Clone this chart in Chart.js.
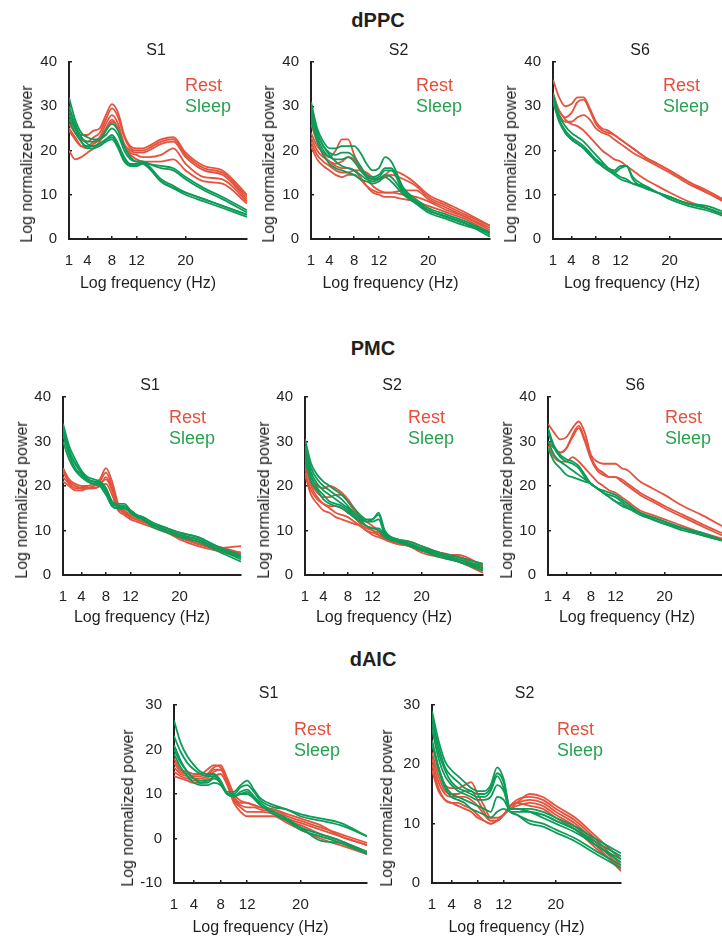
<!DOCTYPE html>
<html lang="en">
<head>
<meta charset="UTF-8">
<title>Log power spectra, rest vs sleep</title>
<style>
  html, body { margin: 0; padding: 0; width: 722px; height: 937px; overflow: hidden; background: #fff; }
  body { position: relative; font-family: "Liberation Sans", Arial, sans-serif; color: #231f20; }
  canvas { position: absolute; }
  .t { position: absolute; white-space: nowrap; line-height: 1; transform: translate(-50%, -50%); }
  .head { font-weight: bold; font-size: 20px; }
  .sub { font-size: 16px; }
  .ax { font-size: 16px; }
  .yt { transform: translate(-50%, -50%) rotate(-90deg); }
  .leg { position: absolute; white-space: nowrap; font-size: 18px; line-height: 1; transform: translateY(-50%); }
</style>
</head>
<body>
<script src="https://cdn.jsdelivr.net/npm/chart.js"></script>
<script>
const freq = [1, 2, 3, 4, 5, 6, 7, 8, 9, 10, 11, 12, 13, 14, 16, 18, 20, 23, 26, 30]
const xTicks = [1, 4, 8, 12, 20]
const yTicks40 = [0, 10, 20, 30, 40]
const yTicksAic1 = [-10, 0, 10, 20, 30]
const yTicksAic2 = [0, 10, 20, 30]

// dPPC
const dppcS1Rest = [
  [27, 25, 23.5, 23.5, 24.5, 25, 28, 30.5, 28.5, 23.5, 21, 20.5, 20.5, 21, 22.5, 23, 19.5, 16.5, 15.5, 10],
  [26, 24, 22.5, 22, 23, 24, 27, 29.5, 27.5, 23, 20.5, 20, 20, 20.5, 22, 22.5, 19, 16, 15, 9.5],
  [24.5, 22.5, 21, 21, 22, 23, 26, 28, 26, 21.5, 20, 19.5, 19.5, 20, 21.5, 22, 18.5, 15.5, 14.5, 9],
  [25, 23, 21, 20.5, 21.5, 22.5, 25, 27, 25, 21, 19.5, 19, 18.5, 18.5, 19, 20.5, 17, 14, 13.5, 8.5],
  [20, 18, 18.5, 19.5, 20.5, 22, 24.5, 26.5, 25, 21, 19, 18, 17.5, 17.5, 17.5, 18, 15.5, 13, 12.5, 8]
]
const dppcS1Sleep = [
  [32, 27, 24, 23, 22.5, 22.5, 24.5, 26, 24.5, 21, 18.5, 17.5, 17.5, 17, 16.5, 16, 14, 11.5, 9.5, 6.5],
  [30, 26, 23, 22, 22, 22.5, 23.5, 25, 23.5, 20, 18, 17.5, 17.5, 17, 16, 15.5, 13.5, 11, 9, 6],
  [28, 25, 22, 21, 21, 21.5, 22.5, 23.5, 21.5, 18.5, 17, 17, 17.5, 16.5, 13.5, 12, 10.5, 9, 7.5, 5.5],
  [29, 25.5, 23, 21.5, 21, 21.5, 22.5, 23, 21, 18, 16.8, 16.8, 17.2, 16.2, 13, 11.5, 10, 8.5, 7, 5],
  [27, 24, 22, 20.5, 20.5, 21, 22, 22.5, 20.5, 17.5, 16.5, 16.5, 17, 16, 13, 11.5, 10.5, 9, 7.5, 5.5]
]
const dppcS2Rest = [
  [24, 21, 19.5, 18.5, 20, 22.5, 22.5, 19, 16, 14, 12, 11, 10.5, 10.5, 10, 9.5, 8.5, 6.5, 5, 2.5],
  [23, 20, 18.5, 17.5, 17, 17.5, 18.5, 18, 16, 14.5, 13.5, 13.5, 14.5, 15.5, 14.5, 12.5, 10, 8, 6, 3],
  [22, 19, 17.5, 16.5, 15.5, 15, 15, 15.5, 15.5, 15, 14, 13.5, 14, 14.5, 13.5, 12, 9.5, 7.5, 5.5, 3],
  [21, 18, 16.5, 15.5, 14.5, 14, 14.5, 14.5, 13.5, 12, 11, 10.5, 10.5, 10.5, 11, 11, 9, 7, 5, 2],
  [26, 22, 19, 17.5, 16.5, 16, 16, 15.5, 14, 12, 10.5, 10, 9.5, 9.5, 9, 8.5, 7.5, 6, 4.5, 1.5]
]
const dppcS2Sleep = [
  [31, 25, 22, 20.5, 20.5, 21, 21, 21, 19.5, 17, 15.5, 16, 18.5, 17.5, 11.5, 9, 7, 5.5, 4, 1.5],
  [29, 24, 21, 19.5, 19, 19.5, 19.5, 18.5, 16.5, 14.5, 14, 14.5, 16, 16, 11, 8.5, 6.5, 5, 3.5, 1],
  [28, 23, 20, 18.5, 18, 18, 18.5, 17.5, 15.5, 14, 13.5, 14, 15.5, 15.5, 10.5, 8.5, 6.5, 5, 3.5, 1.5],
  [30, 24, 21, 19, 17.5, 16.5, 16, 15.5, 14.5, 13.5, 13, 13.5, 14.5, 14, 10.5, 8, 6.5, 5, 3.5, 0.5],
  [27, 22, 19, 17, 16, 15.5, 15, 14.5, 13.5, 13, 12.5, 13, 14, 13, 10, 8, 6, 4.5, 3, 1.5]
]
const dppcS6Rest = [
  [36, 32, 30, 30.5, 32, 32, 29.5, 26.5, 25, 24.5, 23.5, 22.5, 21.5, 20.5, 18.5, 17, 15.5, 13, 11, 8],
  [33, 29, 27.5, 28.5, 31, 31.5, 29, 26, 24.5, 24, 23.5, 22.5, 21.5, 20.5, 18.5, 17, 15.5, 13, 10.5, 8],
  [31, 28, 26.5, 26.5, 27.5, 28, 27, 25, 24, 23.5, 22.5, 21.5, 20.5, 19.5, 18, 16.5, 15, 12.5, 10.5, 7.5],
  [32, 29, 27, 26, 25.5, 24.5, 23, 21.5, 20, 19, 18, 17.5, 16.5, 15.5, 13.5, 12, 10.5, 8.5, 7, 4.5]
]
const dppcS6Sleep = [
  [33, 28, 25.5, 24, 23, 22, 20.5, 19, 17.5, 16, 15, 14, 13.5, 12.5, 12, 10.5, 9.5, 8, 7, 5],
  [32, 27, 24.5, 23, 22, 21, 19.5, 18, 17, 16, 15.5, 16.5, 16.5, 14, 12, 10.5, 9.5, 8, 7, 5],
  [31, 26.5, 24, 22.5, 21.5, 20.5, 19, 18, 16.5, 15.5, 15, 16, 16.5, 13.5, 11.5, 10.5, 9, 7.5, 6.5, 4.5],
  [32.5, 27, 24, 22.5, 21.5, 20.5, 19, 17.5, 16.5, 15.5, 14.5, 13.5, 13, 12.5, 11.5, 10.5, 9.5, 8, 7.5, 5.5]
]

// PMC
const pmcS1Rest = [
  [24, 21.5, 20.5, 20, 20, 20.5, 21.5, 24, 21, 16, 14.5, 13.5, 13, 12.5, 11, 10, 9, 7.5, 6.5, 5],
  [23, 21, 20, 19.5, 19.5, 20, 21, 23, 20, 15.5, 14, 13, 12.5, 12, 11, 10, 8.5, 7, 6, 6.5],
  [22, 20.5, 19.5, 19.5, 19.5, 20, 20.5, 21.5, 19, 15, 14, 13, 12.5, 12, 11, 9.5, 8.5, 7, 6, 5],
  [21, 20, 19, 19, 19.5, 19.5, 20, 20.5, 18, 14.5, 13.5, 12.5, 12, 11.5, 10.5, 9.5, 8, 6.5, 5.5, 4],
  [23.5, 21, 20, 19.5, 19.5, 19.5, 20, 22, 19.5, 15.5, 14, 13, 12.5, 12, 11, 10, 8.5, 7, 6, 4.5]
]
const pmcS1Sleep = [
  [34, 29, 26, 23.5, 22, 21.5, 21, 19.5, 16.5, 16, 16, 14.5, 13.5, 13, 11.5, 10.5, 9.5, 8.5, 6.5, 4.5],
  [33, 28, 25, 23, 21.5, 21, 20.5, 19, 16, 15.5, 15.5, 14.5, 13.5, 13, 11.5, 10.5, 9.5, 8.5, 6.5, 4],
  [31.5, 27, 24, 22.5, 21, 20.5, 20.5, 18.5, 15.5, 15, 15, 14, 13, 12.5, 11, 10, 9, 8, 6, 3.5],
  [30, 26, 23.5, 22, 21, 20.5, 20, 18, 15.5, 15, 15, 14, 13.5, 12.5, 10.5, 9.5, 8.5, 7.5, 5.5, 3],
  [32, 27.5, 25, 23, 21.5, 21, 21, 19.5, 16.5, 15.5, 15.5, 14.5, 13.5, 12.5, 11, 10, 9, 8, 6, 4]
]
const pmcS2Rest = [
  [26, 22, 20, 19.5, 20, 19.5, 18.5, 17, 15, 13, 12, 11, 10, 9, 8, 7.5, 6.5, 5, 4, 2.5],
  [24, 20.5, 18.5, 17.5, 17.5, 18, 18, 16.5, 14.5, 12.5, 11, 10, 9.5, 8.5, 7.5, 7, 6, 4.5, 4.5, 2],
  [23, 19, 17, 16, 15.5, 15.5, 15, 14, 13, 11.5, 10.5, 10, 9, 8.5, 7.5, 6.5, 5.5, 5, 4, 1.5],
  [22.5, 18, 16, 14.5, 14, 13, 12.5, 12, 11.5, 11, 10, 9, 8.5, 8, 7, 6.5, 5.5, 4.5, 3, 1],
  [25, 20, 17.5, 16, 15, 14, 13.5, 13, 12, 11, 10, 9.5, 9, 8, 7, 6.5, 5, 4, 3, 0.5]
]
const pmcS2Sleep = [
  [30.5, 25, 22.5, 21, 20, 19, 18, 16.5, 15, 13.5, 12.5, 12.5, 14, 10, 8, 7.5, 6.5, 5, 4, 2.5],
  [29, 24, 21.5, 20, 19, 18, 17, 15.5, 14, 13, 12, 12.5, 13.5, 9.5, 8, 7, 6, 5, 3.5, 2],
  [28, 23, 20.5, 19, 18, 17, 16, 15, 13.5, 12.5, 12, 12, 12.5, 9, 7.5, 7, 6, 4.5, 3.5, 1.5],
  [27, 22, 19.5, 18, 16.5, 16, 15.5, 14.5, 13, 12, 11, 10.5, 10.5, 9, 7.5, 7, 5.5, 4.5, 3, 1],
  [26, 21, 19, 17, 16, 15.5, 15, 14, 13, 12, 11, 10.5, 10, 8.5, 7.5, 6.5, 5.5, 4, 3, 1.5]
]
const pmcS6Rest = [
  [34, 32, 30.5, 31, 33, 34.5, 32, 27, 25.5, 25, 25, 25, 24, 23.5, 21, 19.5, 18, 15.5, 13.5, 10.5],
  [30, 28.5, 27.5, 28.5, 31.5, 33.5, 30.5, 26.5, 24, 23, 22, 22, 21.5, 20.5, 18.5, 17, 15.5, 13.5, 11.5, 9],
  [30, 28.5, 27.5, 28.5, 31, 33, 30, 26, 23.5, 22.5, 22, 22, 21, 20, 18, 16.5, 15, 13, 11, 8.5],
  [29, 26.5, 25.5, 25.5, 26.5, 25.5, 24, 22.5, 21, 20, 19, 18.5, 17.5, 16.5, 14.5, 13.5, 12.5, 11, 9.5, 8]
]
const pmcS6Sleep = [
  [33, 29, 27, 26, 25.5, 24.5, 22.5, 20.5, 19.5, 19, 18.5, 18, 17, 16, 14, 13, 12, 10.5, 9.5, 7.5],
  [32, 28.5, 26.5, 25.5, 25, 24, 22, 20.5, 19.5, 18.5, 18, 17.5, 16.5, 15.5, 14, 13, 12, 10.5, 9, 7.5],
  [30, 27, 25.5, 24.5, 23.5, 22.5, 21.5, 20.5, 19.5, 18.5, 17.5, 16.5, 16, 15, 14, 12.5, 11.5, 10.5, 9, 7.5],
  [28.5, 25.5, 24, 22.5, 22, 21.5, 21, 20.5, 19.5, 18.5, 17.5, 16.5, 15.5, 15, 13.5, 12.5, 11.5, 10, 9, 7.5]
]

// dAIC
const daicS1Rest = [
  [18, 15.5, 15, 14.5, 14.5, 15.5, 16.5, 16, 13, 9.5, 8, 8, 7.5, 7, 6.5, 5, 4, 2.5, 1, -1],
  [16, 14.5, 14, 13.5, 13.5, 14, 15.5, 15.5, 13, 9, 7.5, 7, 7, 6.5, 6, 4.5, 3.5, 2, 0.5, -1.5],
  [15, 14, 13.5, 13, 13, 13.5, 15, 15.5, 12.5, 8.5, 7, 6, 6, 6, 5.5, 4, 3, 1, -0.5, -3],
  [14, 13.5, 13, 12.5, 12.5, 13, 14, 14.5, 12, 8, 6, 5, 5, 5, 5, 3.5, 2, 0, -1.5, -3.5],
  [17, 15, 14.5, 14, 14, 14.5, 16, 16.5, 13.5, 10, 8.5, 8, 7.5, 7, 6.5, 5.5, 4.5, 3, 0.5, -1.5]
]
const daicS1Sleep = [
  [26.5, 21.5, 18.5, 16.5, 15, 14.5, 14.5, 13, 10.5, 10.5, 12, 13, 11, 9, 7.5, 6.5, 5.5, 4.5, 3.5, 0.5],
  [23, 19.5, 17, 15.5, 14.5, 14, 14, 12.5, 10, 10, 11.5, 12, 10.5, 8.5, 7, 6.5, 5, 4, 3, 0.5],
  [20, 17, 15, 13.5, 13, 13, 13.5, 12.5, 10, 9.5, 10.5, 11, 9.5, 8, 6, 4.5, 2.5, 1, -0.5, -3],
  [19, 16, 14, 12.5, 12, 12, 12.5, 12, 10, 9.5, 10, 10.5, 9, 7.5, 5.5, 4, 2, 0.5, -1, -3.5],
  [21, 17.5, 15, 13.5, 12.5, 12.5, 13.5, 12.5, 10, 9.5, 10, 10, 9, 7.5, 5.5, 4, 2.5, -0.5, -1, -3]
]
const daicS2Rest = [
  [24, 19.5, 16.5, 16, 16, 16.5, 17, 15, 13, 11, 11, 11.5, 12.5, 13.5, 15, 14.5, 13, 11, 8, 4],
  [22, 18, 15.5, 15, 15, 15.5, 15.5, 14, 12, 10.5, 10.5, 11.5, 13, 14, 14.5, 14, 12.5, 10.5, 7.5, 3],
  [21, 17, 15, 14.5, 14.5, 14.5, 14, 13, 11.5, 10.5, 10.5, 11.5, 13, 13.5, 14, 13.5, 12, 10, 7, 2.5],
  [20, 16, 14, 13.5, 13.5, 13, 12.5, 11.5, 10.5, 10, 10.5, 11.5, 12.5, 13, 13.5, 13, 11.5, 9.5, 6.5, 2],
  [19, 15.5, 14, 13.5, 13, 12.5, 12, 11, 10.5, 10, 10.5, 11.5, 13, 13.5, 13, 12.5, 11, 9, 6, 2.5]
]
const daicS2Sleep = [
  [29, 24, 20.5, 19, 18, 17, 16, 15.5, 15.5, 16.5, 19.5, 17.5, 12.5, 12.5, 12.5, 12, 11, 9.5, 7.5, 5],
  [28, 23, 19.5, 18, 17, 16, 15.5, 15, 15, 16, 18.5, 17, 12.5, 12.5, 12, 11.5, 10.5, 9, 7, 4.5],
  [27, 22, 19, 17, 16, 15.5, 15, 14.5, 14.5, 15.5, 18, 16, 12, 12, 12, 11.5, 10.5, 9, 6.5, 4],
  [26, 21, 18, 16.5, 15.5, 15, 14.5, 14, 14, 14.5, 16.5, 15.5, 12.5, 12.5, 12, 11, 10, 8.5, 6.5, 3.5],
  [24, 19.5, 16.5, 15, 14.5, 14, 13.5, 13, 12.5, 12, 14.5, 14, 12, 11.5, 10.5, 10, 9, 7.5, 5.5, 3],
  [23.5, 19, 16, 14.5, 14, 13.5, 12.5, 12, 11.5, 11, 12, 12.5, 12, 11.5, 10, 9.5, 8.5, 7, 5, 2.5]
]

const INK = '#231f20'
const RED = '#e3533d'
const GREEN = '#0d9c58'
const FONT = '"Liberation Sans", Arial, sans-serif'
const PAD_TOP = 24 // y ticks padding + half a label line, chart.js reserves this above the plot

// panel placement: x = pixel of the y axis, top = pixel of the y max, w/h = plot size
const panels = [
  { name: 'S1', rest: dppcS1Rest, sleep: dppcS1Sleep, yTicks: yTicks40, x: 69, top: 62, w: 178, h: 177, legX: 116, legY: 23, yOff: 42, xOff: 44 },
  { name: 'S2', rest: dppcS2Rest, sleep: dppcS2Sleep, yTicks: yTicks40, x: 311, top: 62, w: 179, h: 177, legX: 105, legY: 23, yOff: 42, xOff: 44 },
  { name: 'S6', rest: dppcS6Rest, sleep: dppcS6Sleep, yTicks: yTicks40, x: 553, top: 62, w: 178, h: 177, legX: 110, legY: 23, yOff: 42, xOff: 44 },
  { name: 'S1', rest: pmcS1Rest, sleep: pmcS1Sleep, yTicks: yTicks40, x: 63, top: 397, w: 178, h: 178, legX: 106, legY: 20, yOff: 41, xOff: 42 },
  { name: 'S2', rest: pmcS2Rest, sleep: pmcS2Sleep, yTicks: yTicks40, x: 305, top: 397, w: 178, h: 178, legX: 103, legY: 20, yOff: 41, xOff: 42 },
  { name: 'S6', rest: pmcS6Rest, sleep: pmcS6Sleep, yTicks: yTicks40, x: 548, top: 397, w: 178, h: 178, legX: 117, legY: 20, yOff: 41, xOff: 42 },
  { name: 'S1', rest: daicS1Rest, sleep: daicS1Sleep, yTicks: yTicksAic1, x: 174, top: 705, w: 193, h: 178, legX: 120, legY: 24, yOff: 46, xOff: 44 },
  { name: 'S2', rest: daicS2Rest, sleep: daicS2Sleep, yTicks: yTicksAic2, x: 432, top: 705, w: 189, h: 178, legX: 125, legY: 24, yOff: 45, xOff: 44 }
]

const heads = [
  { text: 'dPPC', x: 378, y: 20 },
  { text: 'PMC', x: 373, y: 348 },
  { text: 'dAIC', x: 373, y: 659 }
]

function addText(txt, x, y, cls, color) {
  const d = document.createElement('div')
  d.className = cls
  d.textContent = txt
  d.style.left = x + 'px'
  d.style.top = y + 'px'
  if (color) d.style.color = color
  document.body.appendChild(d)
}

const lines = (arr, color) => arr.map(v => ({
  data: v.map((y, i) => ({ x: freq[i], y: y })),
  borderColor: color,
  borderWidth: 1.8,
  pointRadius: 0,
  fill: false,
  cubicInterpolationMode: 'monotone'
}))

const axisStyle = (padding) => ({
  grid: { drawOnChartArea: false, drawTicks: true, tickLength: -3, color: INK, lineWidth: 1.5 },
  border: { display: true, color: INK, width: 2 },
  ticks: { padding: padding, color: INK, font: { family: FONT, size: 15 } }
})

heads.forEach(h => addText(h.text, h.x, h.y, 't head'))

panels.forEach(p => {
  const cv = document.createElement('canvas')
  cv.width = 50 + p.w + 10
  cv.height = PAD_TOP + p.h + 40
  cv.style.left = (p.x - 50) + 'px'
  cv.style.top = (p.top - PAD_TOP) + 'px'
  document.body.appendChild(cv)

  new Chart(cv, {
    type: 'line',
    data: {
      // sleep first so it is drawn on top
      datasets: lines(p.sleep, GREEN).concat(lines(p.rest, RED))
    },
    options: {
      responsive: false,
      animation: false,
      layout: { padding: { top: PAD_TOP, right: 10, left: 0, bottom: 0 } },
      plugins: { legend: { display: false }, tooltip: { enabled: false } },
      scales: {
        x: Object.assign({
          type: 'linear', min: 1, max: 30,
          afterBuildTicks: s => { s.ticks = xTicks.map(v => ({ value: v })) },
          afterFit: s => { s.height = 40 }
        }, axisStyle(16)),
        y: Object.assign({
          min: p.yTicks[0], max: p.yTicks[p.yTicks.length - 1],
          afterBuildTicks: s => { s.ticks = p.yTicks.map(v => ({ value: v })) },
          afterFit: s => { s.width = 50 }
        }, axisStyle(15))
      }
    }
  })

  const cx = p.x + p.w / 2
  const bottom = p.top + p.h
  addText(p.name, cx - 2, p.top - 12, 't sub')
  addText('Log normalized power', p.x - p.yOff, bottom - 75, 't ax yt')
  addText('Log frequency (Hz)', cx - 10, bottom + p.xOff, 't ax')
  addText('Rest', p.x + p.legX, p.top + p.legY, 'leg', '#e4503e')
  addText('Sleep', p.x + p.legX, p.top + p.legY + 21, 'leg', '#27a24f')
})
</script>
</body>
</html>
